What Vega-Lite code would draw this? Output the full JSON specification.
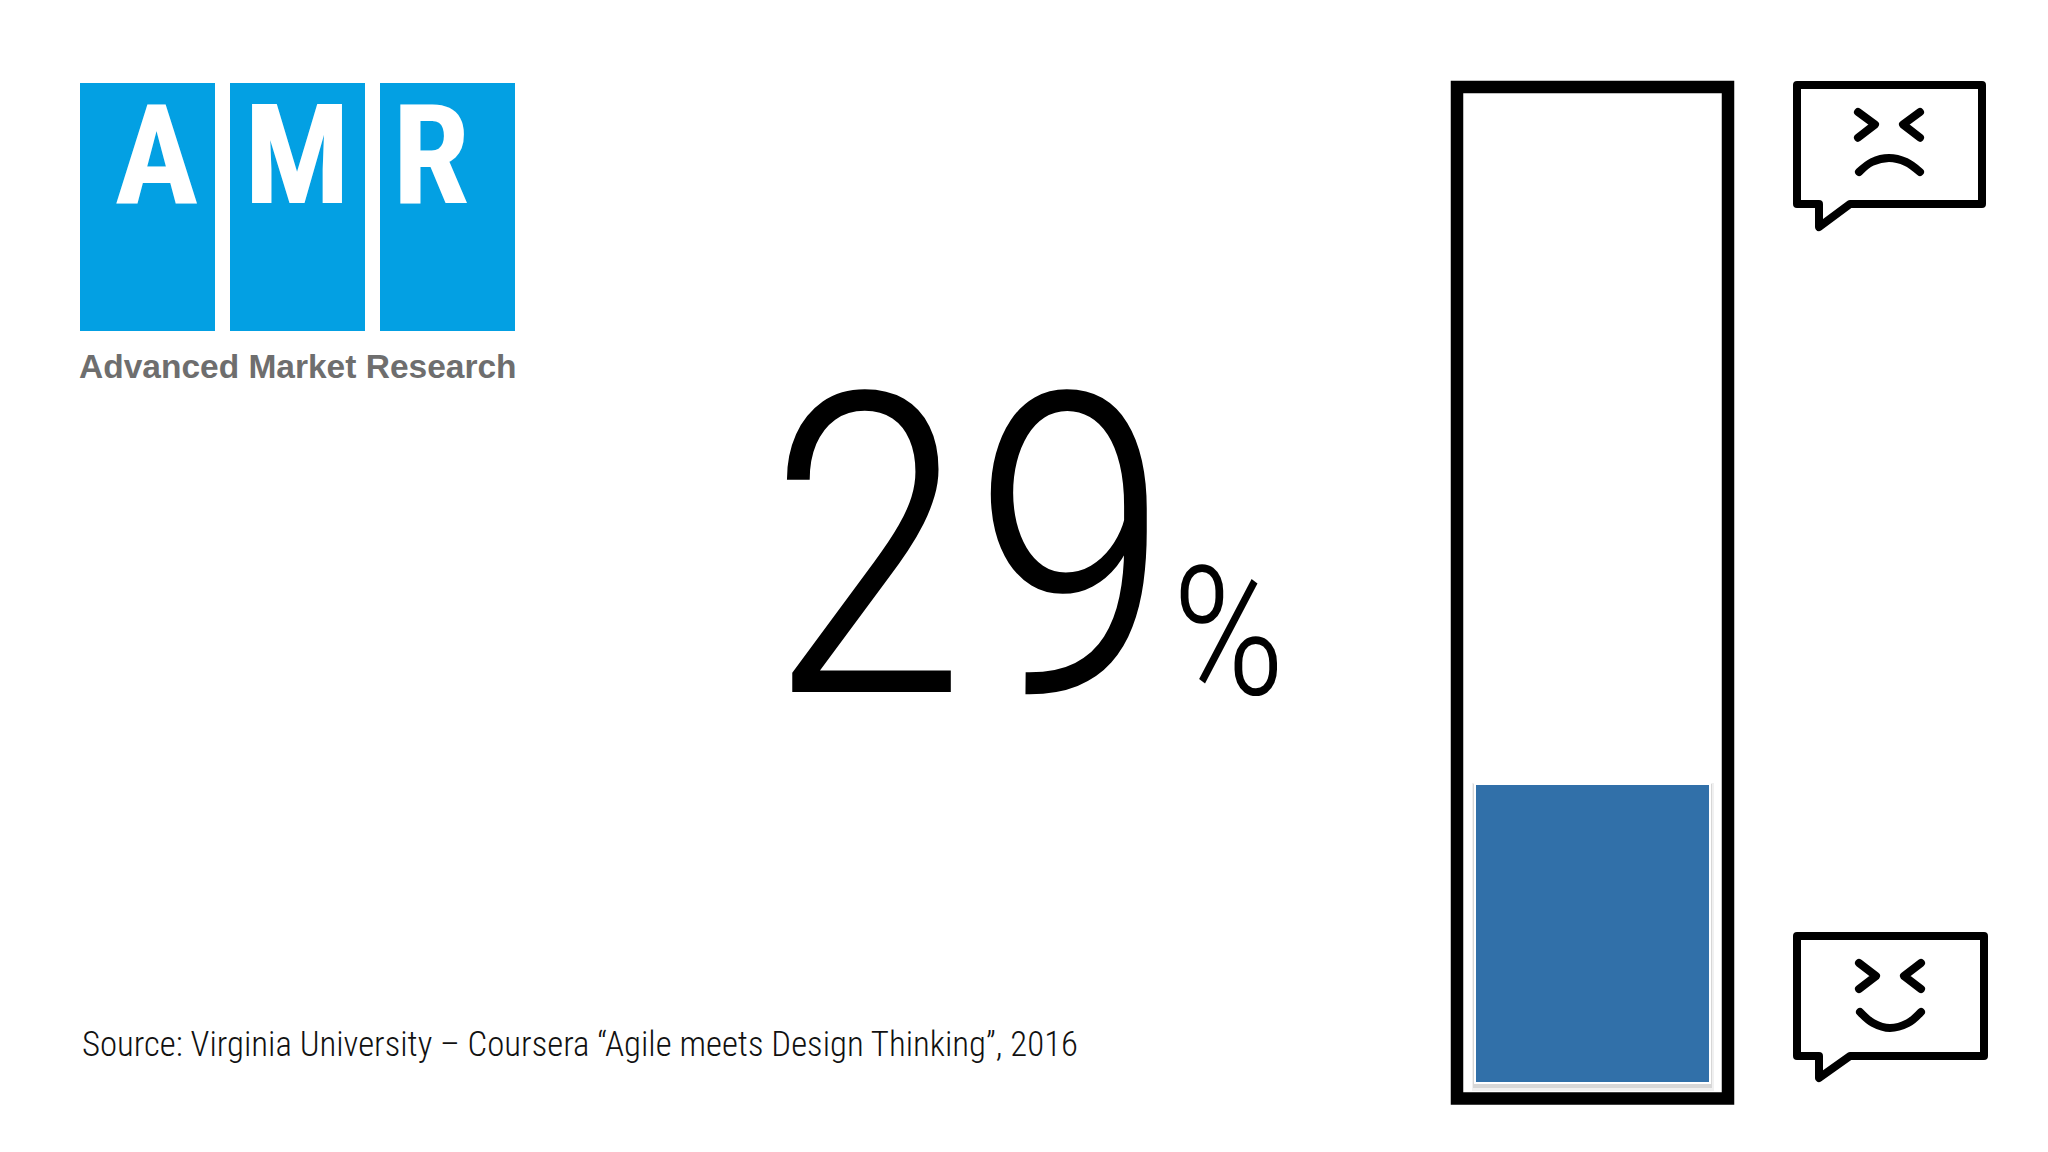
{
"$schema":"https://vega.github.io/schema/vega-lite/v6.json",
"width":2048,"height":1152,"padding":0,
"autosize":{"type":"fit","contains":"padding"},
"background":"white","config":{"view":{"stroke":null}},
"datasets":{
"stat":[{"pct":29,"unit":"%","source":"Source: Virginia University – Coursera “Agile meets Design Thinking”, 2016"}],
"logo":[{"letter":"A","x0":80,"x1":215,"xc":156.5},{"letter":"M","x0":230,"x1":365,"xc":297},{"letter":"R","x0":380,"x1":515,"xc":431}],
"bubbles":[
{"id":"sad","o":0,"x":1819,"y":204},{"id":"sad","o":1,"x":1797,"y":204},{"id":"sad","o":2,"x":1797,"y":85},{"id":"sad","o":3,"x":1982,"y":85},{"id":"sad","o":4,"x":1982,"y":204},{"id":"sad","o":5,"x":1850,"y":204},{"id":"sad","o":6,"x":1819,"y":227},{"id":"sad","o":7,"x":1819,"y":204},
{"id":"sadL","o":0,"x":1858,"y":112},{"id":"sadL","o":1,"x":1875,"y":124.5},{"id":"sadL","o":2,"x":1858,"y":137.7},
{"id":"sadR","o":0,"x":1920,"y":112},{"id":"sadR","o":1,"x":1903,"y":124.5},{"id":"sadR","o":2,"x":1920,"y":137.7},
{"id":"hap","o":0,"x":1819,"y":1056},{"id":"hap","o":1,"x":1797,"y":1056},{"id":"hap","o":2,"x":1797,"y":936},{"id":"hap","o":3,"x":1984,"y":936},{"id":"hap","o":4,"x":1984,"y":1056},{"id":"hap","o":5,"x":1850,"y":1056},{"id":"hap","o":6,"x":1819,"y":1078},{"id":"hap","o":7,"x":1819,"y":1056},
{"id":"hapL","o":0,"x":1859,"y":963},{"id":"hapL","o":1,"x":1876,"y":976},{"id":"hapL","o":2,"x":1859,"y":989},
{"id":"hapR","o":0,"x":1921,"y":963},{"id":"hapR","o":1,"x":1904,"y":976},{"id":"hapR","o":2,"x":1921,"y":989}
],
"mouths":[
{"id":"frown","o":0,"x":1859,"y":172},{"id":"frown","o":1,"x":1872,"y":162},{"id":"frown","o":2,"x":1889,"y":158},{"id":"frown","o":3,"x":1906,"y":162},{"id":"frown","o":4,"x":1920,"y":172},
{"id":"smile","o":0,"x":1860,"y":1012},{"id":"smile","o":1,"x":1873,"y":1023},{"id":"smile","o":2,"x":1890,"y":1028},{"id":"smile","o":3,"x":1908,"y":1023},{"id":"smile","o":4,"x":1921,"y":1012}
]},
"layer":[
{"layer":[
{"data":{"name":"logo"},"mark":{"type":"rect","color":"#03a0e3"},
 "encoding":{"x":{"field":"x0","type":"quantitative","scale":{"domain":[0,2048],"nice":false},"axis":null},"x2":{"field":"x1"},
 "y":{"datum":83,"type":"quantitative","scale":{"domain":[0,1152],"reverse":true,"nice":false},"axis":null},"y2":{"datum":331}}},
{"data":{"name":"logo"},"mark":{"type":"text","font":"Roboto Condensed","fontWeight":"bold","fontSize":140,"color":"white","align":"center","baseline":"alphabetic"},
 "encoding":{"x":{"field":"xc","type":"quantitative"},"y":{"datum":203,"type":"quantitative"},"text":{"field":"letter"}}},
{"data":{"values":[{"name":"Advanced Market Research"}]},"mark":{"type":"text","font":"Liberation Sans","fontWeight":"bold","fontSize":33.5,"color":"#6e6e6e","align":"left","baseline":"alphabetic"},
 "encoding":{"x":{"datum":79,"type":"quantitative"},"y":{"datum":378,"type":"quantitative"},"text":{"field":"name"}}},
{"data":{"name":"stat"},"mark":{"type":"text","font":"Roboto Condensed","fontWeight":300,"fontSize":420,"color":"black","align":"left","baseline":"alphabetic"},
 "encoding":{"x":{"datum":765,"type":"quantitative"},"y":{"datum":692,"type":"quantitative"},"text":{"field":"pct","type":"quantitative"}}},
{"data":{"name":"stat"},"mark":{"type":"text","font":"Roboto Condensed","fontWeight":300,"fontSize":180,"color":"black","align":"left","baseline":"alphabetic"},
 "encoding":{"x":{"datum":1171,"type":"quantitative"},"y":{"datum":694,"type":"quantitative"},"text":{"field":"unit"}}},
{"data":{"name":"stat"},"mark":{"type":"text","font":"Roboto Condensed","fontWeight":300,"fontSize":34.8,"color":"#111111","align":"left","baseline":"alphabetic"},
 "encoding":{"x":{"datum":82,"type":"quantitative"},"y":{"datum":1056,"type":"quantitative"},"text":{"field":"source"}}},
{"data":{"values":[{"part":"frame"}]},"mark":{"type":"rect","fill":null,"stroke":"black","strokeWidth":12.5},
 "encoding":{"x":{"datum":1457,"type":"quantitative"},"x2":{"datum":1728},"y":{"datum":87,"type":"quantitative"},"y2":{"datum":1098.5}}},
{"data":{"values":[{"part":"shadow"}]},"mark":{"type":"rect","color":"#9a9a9a","opacity":0.15},
 "encoding":{"x":{"datum":1472,"type":"quantitative"},"x2":{"datum":1714},"y":{"datum":783,"type":"quantitative"},"y2":{"datum":1091}}},
{"data":{"values":[{"part":"shadow"}]},"mark":{"type":"rect","color":"#8a8a8a","opacity":0.25},
 "encoding":{"x":{"datum":1473,"type":"quantitative"},"x2":{"datum":1712},"y":{"datum":784,"type":"quantitative"},"y2":{"datum":1088}}},
{"data":{"values":[{"part":"edge"}]},"mark":{"type":"rect","color":"white"},
 "encoding":{"x":{"datum":1474,"type":"quantitative"},"x2":{"datum":1711},"y":{"datum":783,"type":"quantitative"},"y2":{"datum":1084}}},
{"data":{"name":"bubbles"},"mark":{"type":"line","color":"black","strokeWidth":8,"strokeJoin":"round","strokeCap":"round"},
 "encoding":{"x":{"field":"x","type":"quantitative"},"y":{"field":"y","type":"quantitative"},"detail":{"field":"id"},"order":{"field":"o"}}},
{"data":{"name":"mouths"},"mark":{"type":"line","color":"black","strokeWidth":8,"strokeCap":"round","interpolate":"cardinal"},
 "encoding":{"x":{"field":"x","type":"quantitative"},"y":{"field":"y","type":"quantitative"},"detail":{"field":"id"},"order":{"field":"o"}}}
]},
{"data":{"name":"stat"},"mark":{"type":"bar","color":"#3170a9"},
 "encoding":{"x":{"datum":1476,"type":"quantitative"},"x2":{"datum":1709},
 "y":{"field":"pct","type":"quantitative","scale":{"domain":[0,100],"range":[1082,58]},"axis":null},"y2":{"datum":0}}}
],
"resolve":{"scale":{"y":"independent"}}
}
